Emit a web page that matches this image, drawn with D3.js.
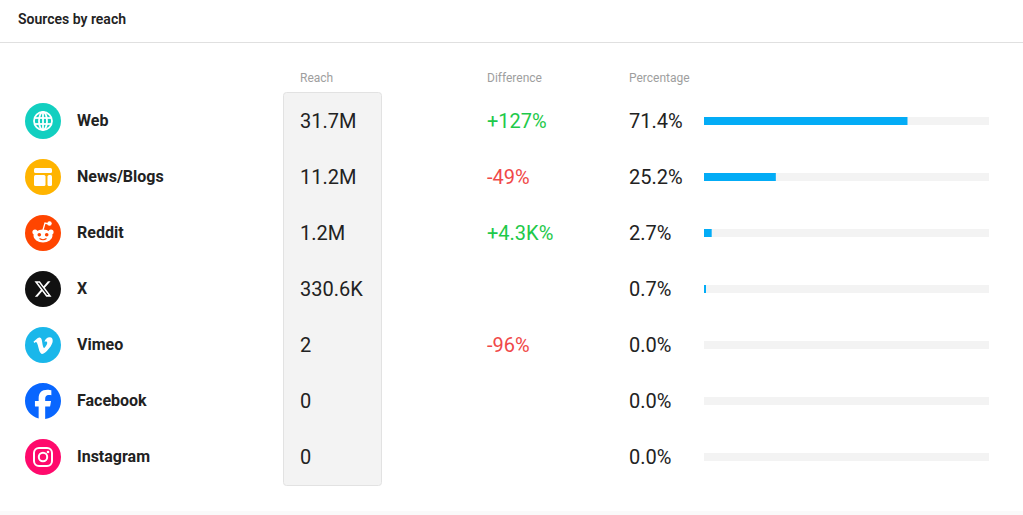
<!DOCTYPE html>
<html>
<head>
<meta charset="utf-8">
<script src="https://cdn.jsdelivr.net/npm/d3@7"></script>
<style>
  html, body { margin: 0; padding: 0; background: #fff; }
  svg { display: block; font-family: Roboto, "Noto Sans", sans-serif; }
</style>
</head>
<body>
<svg id="chart" width="1023" height="515"></svg>
<script>
var sources = ["Web", "News/Blogs", "Reddit", "X", "Vimeo", "Facebook", "Instagram"];
var reachLabels = ["31.7M", "11.2M", "1.2M", "330.6K", "2", "0", "0"];
var differences = ["+127%", "-49%", "+4.3K%", "", "-96%", "", ""];
var percentages = [71.4, 25.2, 2.7, 0.7, 0.0, 0.0, 0.0];
var iconColors = ["#12cfc0", "#ffb400", "#ff4500", "#111111", "#1ab7ea", "#0866ff", "#ff0a6c"];

var svg = d3.select("#chart");
var W = 1023, H = 515;

// header
svg.append("text")
  .attr("x", 18).attr("y", 23.5)
  .attr("font-size", 14).attr("font-weight", 600).attr("fill", "#222")
  .text("Sources by reach");
svg.append("line")
  .attr("x1", 0).attr("x2", W).attr("y1", 42.5).attr("y2", 42.5)
  .attr("stroke", "#e0e0e0");
svg.append("rect")
  .attr("x", 0).attr("y", 511).attr("width", W).attr("height", 4)
  .attr("fill", "#fafafa");

var y = d3.scalePoint().domain(sources).range([120, 456]);
var x = d3.scaleLinear().domain([0, 100]).range([704, 989]);

// column headers
var heads = [["Reach", 300], ["Difference", 487], ["Percentage", 629]];
svg.selectAll("text.head").data(heads).join("text")
  .attr("class", "head")
  .attr("x", function(d){ return d[1]; }).attr("y", 81.5)
  .attr("font-size", 12).attr("fill", "#9e9e9e")
  .text(function(d){ return d[0]; });

// reach column background
svg.append("rect")
  .attr("x", 283.5).attr("y", 92.5).attr("width", 98).attr("height", 393)
  .attr("rx", 3)
  .attr("fill", "#f3f3f3").attr("stroke", "#e2e2e2");

var rows = svg.selectAll("g.row").data(sources).join("g")
  .attr("class", "row")
  .attr("transform", function(d){ return "translate(0," + y(d) + ")"; });

// icons
var icons = rows.append("g").attr("transform", "translate(43,1)");
icons.each(function(d, i){
  var g = d3.select(this);
  var c = iconColors[i];
  if (d === "Facebook") {
    g.append("path")
      .attr("transform", "translate(-18,-18) scale(1.5)")
      .attr("fill", c)
      .attr("d", "M9.101 23.691v-7.98H6.627v-3.667h2.474v-1.58c0-4.085 1.848-5.978 5.858-5.978.401 0 .955.042 1.468.103a8.68 8.68 0 0 1 1.141.195v3.325a8.623 8.623 0 0 0-.653-.036 26.805 26.805 0 0 0-.733-.009c-.707 0-1.259.096-1.675.309a1.686 1.686 0 0 0-.679.622c-.258.42-.374.995-.374 1.752v1.297h3.919l-.386 2.103-.287 1.564h-3.246v8.245C19.396 23.238 24 18.179 24 12.044c0-6.627-5.373-12-12-12s-12 5.373-12 12c0 5.628 3.874 10.350 9.101 11.647Z");
    return;
  }
  g.append("circle").attr("r", 18).attr("fill", c);
  if (d === "Web") {
    var s = g.append("g").attr("fill", "none").attr("stroke", "#fff").attr("stroke-width", 1.8);
    s.append("circle").attr("r", 9);
    s.append("ellipse").attr("rx", 4).attr("ry", 9);
    s.append("line").attr("x1", 0).attr("x2", 0).attr("y1", -9).attr("y2", 9);
    s.append("line").attr("x1", -8.5).attr("x2", 8.5).attr("y1", -3).attr("y2", -3);
    s.append("line").attr("x1", -8.5).attr("x2", 8.5).attr("y1", 3).attr("y2", 3);
  } else if (d === "News/Blogs") {
    g.append("rect").attr("x", -9).attr("y", -9).attr("width", 18).attr("height", 5).attr("rx", 1.5).attr("fill", "#fff");
    g.append("rect").attr("x", -9).attr("y", -2).attr("width", 11.5).attr("height", 11).attr("rx", 1.5).attr("fill", "#fff");
    g.append("rect").attr("x", 4.5).attr("y", -2).attr("width", 4.5).attr("height", 11).attr("rx", 1.5).attr("fill", "#fff");
  } else if (d === "Reddit") {
    g.append("path").attr("d", "M0,-3 L2,-10 L6,-9").attr("fill", "none").attr("stroke", "#fff").attr("stroke-width", 1.3);
    g.append("circle").attr("cx", 6.5).attr("cy", -9.5).attr("r", 2.2).attr("fill", "#fff");
    g.append("circle").attr("cx", -8).attr("cy", -1).attr("r", 2.6).attr("fill", "#fff");
    g.append("circle").attr("cx", 8).attr("cy", -1).attr("r", 2.6).attr("fill", "#fff");
    g.append("ellipse").attr("cy", 3).attr("rx", 9.5).attr("ry", 6.5).attr("fill", "#fff");
    g.append("circle").attr("cx", -3.7).attr("cy", 1.8).attr("r", 1.8).attr("fill", c);
    g.append("circle").attr("cx", 3.7).attr("cy", 1.8).attr("r", 1.8).attr("fill", c);
    g.append("path").attr("d", "M-3.5,5.5 Q0,8 3.5,5.5").attr("fill", "none").attr("stroke", c).attr("stroke-width", 1.1);
  } else if (d === "X") {
    g.append("path")
      .attr("transform", "translate(-9.5,-9.5) scale(0.79)")
      .attr("fill", "#fff")
      .attr("d", "M18.244 2.25h3.308l-7.227 8.26 8.502 11.24H16.17l-5.214-6.817L4.99 21.750H1.680l7.730-8.835L1.254 2.250H8.080l4.713 6.231zm-1.161 17.520h1.833L7.084 4.126H5.117z");
  } else if (d === "Vimeo") {
    g.append("path")
      .attr("transform", "translate(-9.5,-9) scale(0.8)")
      .attr("fill", "#fff")
      .attr("d", "M23.977 6.416c-.105 2.338-1.739 5.543-4.894 9.609-3.268 4.247-6.026 6.370-8.290 6.370-1.409 0-2.578-1.294-3.553-3.881L5.322 11.400C4.603 8.816 3.834 7.522 3.010 7.522c-.179 0-.806.378-1.881 1.132L0 7.197c1.185-1.044 2.351-2.084 3.501-3.128C5.080 2.701 6.266 1.984 7.055 1.910c1.867-.180 3.016 1.100 3.447 3.838.465 2.953.789 4.789.971 5.507.539 2.450 1.131 3.674 1.776 3.674.502 0 1.256-.796 2.265-2.385 1.004-1.589 1.540-2.797 1.612-3.628.144-1.371-.395-2.061-1.614-2.061-.574 0-1.167.121-1.777.391 1.186-3.868 3.434-5.757 6.762-5.637 2.473.060 3.628 1.664 3.493 4.797z");
  } else if (d === "Instagram") {
    var s2 = g.append("g").attr("fill", "none").attr("stroke", "#fff").attr("stroke-width", 2);
    s2.append("rect").attr("x", -9).attr("y", -9).attr("width", 18).attr("height", 18).attr("rx", 5);
    s2.append("circle").attr("r", 4.2);
    g.append("circle").attr("cx", 5).attr("cy", -5).attr("r", 1.3).attr("fill", "#fff");
  }
});

// source names
rows.append("text")
  .attr("x", 77).attr("dy", "0.35em")
  .attr("font-size", 16).attr("font-weight", 700).attr("fill", "#222")
  .text(function(d){ return d; });

// reach values
rows.append("text")
  .attr("x", 300).attr("y", 1).attr("dy", "0.35em")
  .attr("font-size", 20).attr("fill", "#222")
  .text(function(d, i){ return reachLabels[i]; });

// differences
rows.append("text")
  .attr("x", 487).attr("y", 1).attr("dy", "0.35em")
  .attr("font-size", 20)
  .attr("fill", function(d, i){ return differences[i].charAt(0) === "-" ? "#f04848" : "#1ec94a"; })
  .text(function(d, i){ return differences[i]; });

// percentage text
rows.append("text")
  .attr("x", 629).attr("y", 1).attr("dy", "0.35em")
  .attr("font-size", 20).attr("fill", "#222")
  .text(function(d, i){ return percentages[i].toFixed(1) + "%"; });

// bar tracks + bars
rows.append("rect")
  .attr("x", x(0)).attr("y", -3)
  .attr("width", x(100) - x(0)).attr("height", 8)
  .attr("fill", "#f3f3f3");
rows.append("rect")
  .attr("x", x(0)).attr("y", -3)
  .attr("width", function(d, i){ return x(percentages[i]) - x(0); })
  .attr("height", 8)
  .attr("fill", "#03acf6");
</script>
</body>
</html>
